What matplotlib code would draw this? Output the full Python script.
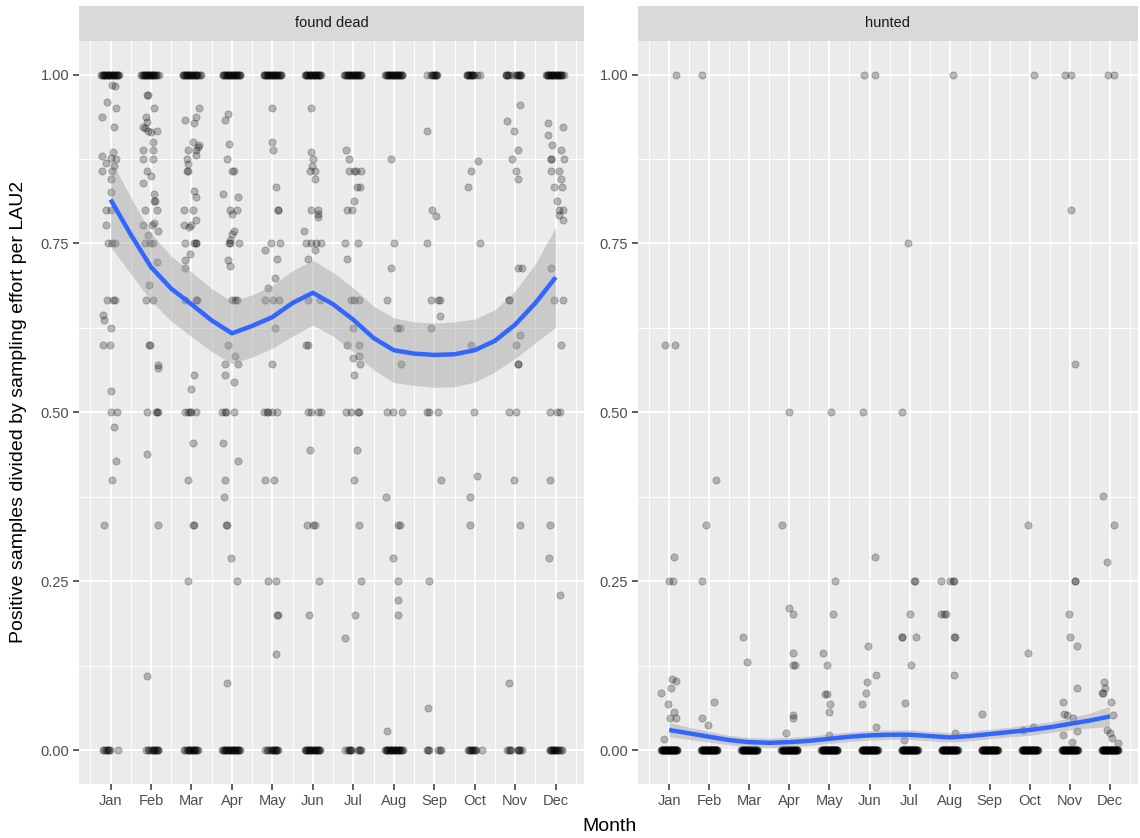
import numpy as np
import matplotlib
matplotlib.use('Agg')
from matplotlib import pyplot as plt

plt.rcParams['font.family'] = ['Liberation Sans', 'DejaVu Sans']

months = ['Jan', 'Feb', 'Mar', 'Apr', 'May', 'Jun', 'Jul', 'Aug', 'Sep', 'Oct', 'Nov', 'Dec']
panels = ['found dead', 'hunted']

# jitter of the stacked points at exactly 1.00 and 0.00, per month (found dead)
dead_ones = [
    [-0.23, -0.21, -0.19, -0.17, -0.15, -0.13, -0.11, -0.09, -0.07, -0.05, -0.03, -0.01, 0.01, 0.03, 0.05,
     0.07, 0.09, 0.11, 0.13, 0.15, 0.17, 0.19, 0.21],
    [-0.24, -0.22, -0.2, -0.18, -0.16, -0.14, -0.12, -0.1, -0.08, -0.06, -0.04, -0.02, 0.0, 0.02, 0.04,
     0.06, 0.08, 0.1, 0.12, 0.14, 0.2],
    [-0.22, -0.2, -0.18, -0.16, -0.14, -0.12, -0.1, -0.08, -0.06, -0.04, -0.02, 0.0, 0.02, 0.04, 0.06,
     0.08, 0.1, 0.12, 0.14, 0.16, 0.2, 0.23],
    [-0.23, -0.21, -0.19, -0.17, -0.15, -0.13, -0.11, -0.09, -0.07, -0.05, -0.03, -0.01, 0.01, 0.03, 0.05,
     0.07, 0.09, 0.11, 0.13, 0.15, 0.17, 0.19, 0.21],
    [-0.22, -0.2, -0.18, -0.16, -0.14, -0.12, -0.1, -0.08, -0.06, -0.04, -0.02, 0.0, 0.02, 0.04, 0.06,
     0.08, 0.1, 0.12, 0.14, 0.16, 0.18, 0.2, 0.22],
    [-0.2, -0.18, -0.16, -0.14, -0.12, -0.1, -0.08, -0.06, -0.04, -0.02, 0.0, 0.02, 0.04, 0.06, 0.08,
     0.1, 0.12, 0.14, 0.16, 0.18, 0.2],
    [-0.22, -0.2, -0.18, -0.16, -0.14, -0.12, -0.1, -0.08, -0.06, -0.04, -0.02, 0.0, 0.02, 0.04, 0.06,
     0.08, 0.1, 0.12, 0.14, 0.16, 0.18, 0.2],
    [-0.21, -0.19, -0.17, -0.15, -0.13, -0.11, -0.09, -0.07, -0.05, -0.03, -0.01, 0.01, 0.03, 0.05, 0.07,
     0.09, 0.11, 0.13, 0.15, 0.17, 0.19, 0.21],
    [-0.19, -0.09, -0.05, -0.03, -0.01, 0.01, 0.03, 0.05, 0.07],
    [-0.2, -0.18, -0.16, -0.14, -0.12, -0.1, -0.08, -0.06, -0.04, -0.02, 0.05, 0.12],
    [-0.24, -0.22, -0.2, -0.18, -0.16, -0.06, 0.03, 0.05, 0.07, 0.09, 0.11, 0.13, 0.15],
    [-0.24, -0.22, -0.2, -0.18, -0.16, -0.14, -0.12, -0.1, -0.08, -0.06, -0.04, -0.02, 0.0, 0.02, 0.04,
     0.06, 0.08, 0.1, 0.12, 0.14, 0.16, 0.2],
]
dead_zeros = [
    [-0.19, -0.15, -0.11, -0.08, -0.06, -0.04, -0.02, 0.18],
    [-0.12, -0.08, -0.04, 0.0, 0.04, 0.06, 0.08, 0.1, 0.12, 0.14, 0.16, 0.18],
    [-0.19, -0.15, -0.11, -0.09, -0.07, -0.05, -0.03, -0.01, 0.01, 0.03, 0.05, 0.07, 0.09, 0.11, 0.13, 0.17],
    [-0.24, -0.22, -0.2, -0.18, -0.16, -0.14, -0.12, -0.1, -0.08, -0.06, -0.04, -0.02, 0.0, 0.02, 0.04,
     0.06, 0.08, 0.1, 0.12, 0.14, 0.16, 0.18, 0.2],
    [-0.19, -0.14, -0.1, -0.06, -0.02, 0.0, 0.02, 0.04, 0.06, 0.08, 0.1, 0.12, 0.14],
    [-0.2, -0.18, -0.16, -0.14, -0.12, -0.1, -0.08, -0.06, -0.04, -0.02, 0.0, 0.02, 0.04, 0.06, 0.08,
     0.1, 0.12, 0.14, 0.16, 0.18],
    [-0.2, -0.13, -0.11, -0.09, -0.07, -0.05, 0.12, 0.14, 0.16, 0.18],
    [-0.22, -0.2, -0.18, -0.16, -0.14, -0.12, -0.1, -0.08, -0.06, -0.04, -0.02, 0.0, 0.02, 0.04, 0.06,
     0.08, 0.1, 0.12, 0.14, 0.16, 0.18, 0.2, 0.22],
    [-0.19, -0.15, -0.13, 0.1, 0.13, 0.16],
    [-0.17, -0.14, -0.11, -0.09, -0.07, -0.05, -0.03, 0.0, 0.02, 0.17],
    [-0.2, -0.15, -0.13, -0.11, 0.06, 0.08, 0.1, 0.12, 0.17],
    [-0.15, -0.13, -0.11, -0.09, -0.07, -0.05, -0.03, -0.01, 0.01, 0.03, 0.05, 0.08, 0.12, 0.15],
]
# hunted: every month has the same solid bar of zeros
hunted_zeros = [-0.2, -0.19, -0.18, -0.17, -0.16, -0.15, -0.14, -0.13, -0.12, -0.11, -0.1, -0.09, -0.08,
                -0.07, -0.06, -0.05, -0.04, -0.03, -0.02, -0.01, 0.0, 0.01, 0.02, 0.03, 0.04, 0.05, 0.06,
                0.07, 0.08, 0.09, 0.1, 0.11, 0.12, 0.13, 0.14, 0.15, 0.16, 0.17, 0.18, 0.19, 0.2]

# remaining points (month + jitter, value)
dead_points = [
    # Jan
    (1.04, .985), (1.12, .983), (0.91, .960), (1.14, .950), (0.79, .937), (1.08, .923), (1.07, .885),
    (0.79, .879), (0.88, .869), (1.14, .875), (1.02, .877), (1.09, .864), (0.79, .857), (1.04, .857),
    (1.01, .846), (1.02, .826), (0.88, .8), (1.02, .8), (0.89, .778), (0.93, .75), (1.04, .75), (1.12, .75),
    (0.91, .667), (1.06, .667), (1.11, .667), (0.81, .644), (0.83, .636), (1.0, .625), (0.81, .6), (0.98, .6),
    (1.0, .531), (1.0, .5), (1.17, .5), (1.09, .479), (1.14, .428), (1.03, .4), (0.85, .333),
    # Feb
    (1.89, .970), (1.93, .970), (2.07, .950), (1.88, .937), (1.91, .929), (1.81, .922), (1.85, .921),
    (1.93, .917), (1.99, .915), (2.14, .917), (2.06, .9), (1.81, .889), (2.06, .889), (1.81, .875),
    (2.06, .875), (1.91, .857), (2.01, .85), (1.79, .839), (2.07, .823), (2.08, .813), (2.09, .813),
    (1.85, .8), (2.14, .8), (1.81, .778), (2.02, .778), (2.07, .78), (2.18, .769), (1.93, .762), (1.85, .75),
    (1.98, .75), (2.06, .75), (2.14, .722), (1.96, .688), (1.88, .667), (2.04, .667), (1.96, .6), (1.98, .6),
    (2.17, .570), (2.17, .566), (1.91, .5), (2.12, .5), (2.14, .5), (2.17, .5), (1.91, .439), (2.16, .333),
    (1.89, .110),
    # Mar
    (3.18, .95), (3.1, .937), (2.84, .933), (3.06, .928), (3.04, .9), (3.18, .896), (3.16, .892), (3.12, .888),
    (2.91, .889), (3.1, .881), (2.88, .875), (2.91, .867), (2.88, .857), (2.91, .857), (3.07, .828),
    (3.12, .818), (2.81, .8), (3.04, .8), (2.81, .778), (2.93, .774), (2.98, .778), (3.12, .785), (2.85, .75),
    (3.06, .75), (3.1, .75), (3.12, .75), (2.96, .735), (2.85, .726), (2.83, .713), (2.83, .667), (3.12, .667),
    (3.13, .667), (3.06, .555), (3.0, .534), (2.85, .5), (2.92, .5), (2.97, .5), (3.0, .5), (3.12, .5),
    (3.03, .454), (2.92, .4), (3.04, .333), (3.07, .333), (2.92, .25),
    # Apr
    (3.89, .942), (3.83, .933), (3.92, .897), (3.88, .875), (4.0, .857), (4.04, .857), (3.79, .823),
    (4.15, .818), (3.94, .8), (4.12, .8), (4.0, .793), (4.06, .769), (4.0, .764), (3.94, .755), (3.92, .75),
    (3.96, .75), (4.17, .75), (3.91, .726), (3.94, .717), (4.0, .667), (4.08, .667), (4.12, .667), (3.89, .6),
    (4.08, .584), (3.83, .572), (4.15, .572), (3.83, .555), (4.06, .545), (3.75, .5), (3.83, .5), (3.85, .5),
    (4.06, .5), (3.79, .454), (4.15, .428), (3.83, .4), (3.81, .375), (3.86, .333), (3.87, .333),
    (3.98, .285), (4.12, .25), (3.87, .099),
    # May
    (4.98, .95), (4.98, .9), (5.02, .889), (5.08, .833), (5.13, .8), (5.14, .8), (4.96, .75), (5.18, .75),
    (4.81, .74), (5.12, .727), (5.07, .699), (4.88, .684), (4.81, .667), (5.02, .667), (5.17, .667),
    (5.07, .625), (4.98, .572), (4.8, .5), (4.87, .5), (4.89, .5), (5.0, .5), (5.11, .5), (4.81, .4),
    (5.04, .4), (4.89, .25), (5.1, .25), (5.12, .2), (5.13, .2), (5.08, .142),
    # Jun
    (5.96, .95), (5.96, .885), (6.0, .875), (5.98, .864), (5.92, .857), (6.06, .857), (6.06, .846),
    (5.96, .8), (6.12, .8), (6.12, .794), (6.13, .789), (5.79, .769), (5.83, .75), (5.96, .75), (6.08, .75),
    (6.19, .75), (6.04, .74), (5.88, .727), (5.89, .667), (6.17, .667), (5.83, .6), (5.87, .6), (5.88, .5),
    (5.96, .5), (6.12, .5), (6.2, .5), (5.92, .444), (5.86, .333), (6.0, .333), (6.04, .333), (6.14, .25),
    (5.9, .2),
    # Jul
    (6.82, .889), (6.9, .875), (6.88, .857), (7.02, .857), (7.07, .857), (7.19, .857), (7.09, .833),
    (7.17, .833), (7.02, .813), (6.84, .8), (6.96, .8), (6.79, .75), (7.11, .75), (6.84, .727), (6.94, .667),
    (7.01, .667), (7.15, .667), (6.98, .625), (6.84, .6), (7.15, .6), (6.98, .581), (7.13, .584),
    (7.17, .571), (7.01, .555), (6.82, .5), (6.94, .5), (7.11, .5), (7.15, .5), (7.09, .444), (7.02, .4),
    (7.15, .333), (7.19, .25), (7.05, .2), (6.79, .166),
    # Aug
    (7.94, .875), (8.0, .75), (7.94, .714), (7.84, .667), (8.09, .625), (8.15, .625), (8.17, .571),
    (7.82, .5), (7.98, .5), (8.19, .5), (7.8, .375), (8.11, .333), (8.15, .333), (7.97, .285), (8.11, .25),
    (8.11, .222), (8.11, .2), (7.83, .028),
    # Sep
    (8.81, .916), (8.95, .8), (9.03, .79), (8.83, .75), (8.93, .667), (9.1, .667), (9.14, .667),
    (9.14, .642), (8.93, .625), (8.81, .5), (8.87, .5), (9.1, .5), (9.17, .4), (8.87, .25), (8.85, .062),
    # Oct
    (10.07, .872), (9.91, .857), (9.84, .833), (10.13, .75), (9.91, .6), (9.97, .5), (10.05, .406),
    (9.87, .375), (9.87, .333),
    # Nov
    (11.13, .955), (10.8, .931), (10.97, .916), (11.07, .889), (10.93, .875), (11.01, .857), (11.07, .846),
    (11.07, .714), (11.16, .714), (10.84, .667), (10.85, .667), (11.13, .615), (11.01, .6), (11.07, .571),
    (11.08, .571), (10.84, .5), (11.02, .5), (10.97, .4), (11.13, .333), (10.84, .099),
    # Dec
    (11.82, .928), (12.17, .922), (11.82, .91), (11.92, .895), (12.12, .889), (11.88, .875), (11.89, .875),
    (12.21, .875), (11.88, .857), (12.07, .857), (12.12, .846), (11.96, .833), (12.15, .833), (12.04, .813),
    (12.07, .8), (12.17, .8), (12.08, .792), (12.18, .785), (11.88, .714), (11.96, .667), (12.17, .667),
    (12.12, .6), (11.85, .5), (12.04, .5), (12.11, .5), (11.85, .4), (11.85, .333), (11.83, .285),
    (12.11, .23),
]

hunted_points = [
    (1.17, 1.0), (0.9, .6), (1.15, .6), (1.12, .286), (1.0, .25), (1.09, .25), (0.8, .085), (0.96, .068),
    (1.05, .092), (1.07, .106), (1.17, .103), (1.13, .057), (1.02, .047), (1.17, .048), (0.86, .016),
    (1.82, 1.0), (2.17, .4), (1.92, .333), (1.83, .25), (1.83, .048), (1.96, .038), (2.12, .072),
    (2.84, .168), (2.94, .131),
    (4.0, .5), (3.81, .333), (4.0, .211), (4.08, .201), (4.08, .144), (4.1, .126), (4.15, .126), (4.1, .052),
    (4.1, .047), (3.92, .025),
    (5.04, .5), (5.14, .25), (5.08, .201), (4.83, .144), (4.94, .126), (4.88, .083), (4.94, .083),
    (5.02, .068), (4.98, .057), (4.98, .022),
    (5.87, 1.0), (6.14, 1.0), (5.83, .5), (6.13, .286), (5.97, .154), (6.15, .112), (5.94, .101),
    (5.9, .085), (5.8, .068), (6.15, .035),
    (6.82, .5), (6.97, .75), (7.12, .25), (7.13, .25), (7.0, .201), (6.8, .168), (6.81, .168), (7.17, .168),
    (7.03, .126), (6.88, .07), (6.85, .015),
    (8.08, 1.0), (7.79, .25), (8.0, .25), (8.08, .25), (8.12, .25), (7.79, .201), (7.86, .201), (7.92, .201),
    (8.12, .168), (8.13, .168), (8.1, .112), (8.14, .026),
    (8.82, .054),
    (10.11, 1.0), (9.95, .334), (9.95, .144), (9.83, .03), (10.07, .035),
    (10.88, 1.0), (11.03, 1.0), (11.02, .8), (11.12, .572), (10.97, .201), (11.0, .168), (11.17, .154),
    (11.13, .25), (11.14, .25), (11.17, .092), (10.82, .072), (10.86, .054), (10.93, .052), (11.09, .047),
    (10.84, .022), (11.17, .029), (11.05, .012),
    (11.95, 1.0), (12.1, 1.0), (11.84, .376), (12.1, .334), (11.93, .278), (11.85, .101), (11.89, .092),
    (11.81, .085), (11.82, .085), (12.03, .072), (12.08, .052), (11.93, .03), (11.99, .025), (12.06, .018),
    (12.21, .011),
]

# loess fit with its confidence band, read at half-month steps
smooth_x = [1, 1.5, 2, 2.5, 3, 3.5, 4, 4.5, 5, 5.5, 6, 6.5, 7, 7.5, 8, 8.5, 9, 9.5, 10, 10.5, 11, 11.5, 12]
dead_fit = [.815, .763, .715, .683, .660, .636, .617, .628, .641, .662, .677, .660, .637, .610, .592, .587,
            .585, .586, .592, .606, .630, .662, .700]
dead_lo = [.745, .705, .665, .635, .612, .590, .572, .582, .595, .613, .629, .613, .589, .563, .544, .540,
           .537, .538, .545, .560, .580, .603, .626]
dead_hi = [.875, .818, .765, .731, .708, .683, .664, .674, .688, .710, .725, .707, .684, .657, .640, .634,
           .632, .634, .638, .652, .680, .720, .774]
hunted_fit = [.030, .025, .020, .015, .012, .011, .012, .014, .017, .020, .022, .023, .023, .021, .019,
              .021, .024, .027, .030, .034, .039, .044, .050]
hunted_lo = [.020, .016, .012, .008, .005, .004, .005, .007, .010, .013, .015, .016, .016, .014, .012,
             .014, .017, .020, .022, .026, .030, .033, .035]
hunted_hi = [.041, .034, .028, .022, .019, .018, .019, .021, .024, .027, .029, .030, .030, .028, .026,
             .028, .031, .034, .038, .042, .048, .055, .065]


def scatter_panel(ax, points, ones, zeros):
    xs = [p[0] for p in points]
    ys = [p[1] for p in points]
    for m in range(12):
        if ones is not None:
            for j in ones[m]:
                xs.append(m + 1 + j)
                ys.append(1.0)
        for j in zeros[m]:
            xs.append(m + 1 + j)
            ys.append(0.0)
    ax.plot(xs, ys, 'o', color='black', alpha=0.25, ms=5.2, mew=0.6, ls='none', zorder=2)


def style_panel(ax, title, left, width):
    ax.set_facecolor('#EBEBEB')
    ax.set_xlim(0.22, 12.7)
    ax.set_ylim(-0.05, 1.05)
    ax.set_xticks(range(1, 13))
    ax.set_xticklabels(months)
    ax.set_xticks(np.arange(0.5, 13, 1), minor=True)
    ax.set_yticks([0, 0.25, 0.5, 0.75, 1.0])
    ax.set_yticklabels(['0.00', '0.25', '0.50', '0.75', '1.00'])
    ax.set_yticks([0.125, 0.375, 0.625, 0.875], minor=True)
    ax.grid(which='major', color='white', lw=1.3)
    ax.grid(which='minor', color='white', lw=0.65)
    ax.set_axisbelow(True)
    for s in ax.spines.values():
        s.set_visible(False)
    ax.tick_params(which='major', length=4, width=1.1, color='#333333',
                   labelcolor='#4D4D4D', labelsize=10.5, pad=3)
    ax.tick_params(which='minor', length=0)

    strip = fig.add_axes([left, 0.9514, width, 0.0414])
    strip.set_facecolor('#D9D9D9')
    strip.set_xticks([])
    strip.set_yticks([])
    for s in strip.spines.values():
        s.set_visible(False)
    strip.text(0.5, 0.5, title, ha='center', va='center', fontsize=10.5, color='#1A1A1A',
               transform=strip.transAxes)


fig = plt.figure(figsize=(11.4, 8.38), dpi=100)

ax1 = fig.add_axes([0.0693, 0.0644, 0.443, 0.887])
ax2 = fig.add_axes([0.5596, 0.0644, 0.4386, 0.887])

scatter_panel(ax1, dead_points, dead_ones, dead_zeros)
scatter_panel(ax2, hunted_points, None, [hunted_zeros] * 12)

ax1.fill_between(smooth_x, dead_lo, dead_hi, color='#999999', alpha=0.4, lw=0, zorder=3)
ax1.plot(smooth_x, dead_fit, color='#3366FF', lw=3.2, zorder=4, solid_capstyle='butt')
ax2.fill_between(smooth_x, hunted_lo, hunted_hi, color='#999999', alpha=0.4, lw=0, zorder=3)
ax2.plot(smooth_x, hunted_fit, color='#3366FF', lw=3.2, zorder=4, solid_capstyle='butt')

style_panel(ax1, panels[0], 0.0693, 0.443)
style_panel(ax2, panels[1], 0.5596, 0.4386)

fig.text(0.535, 0.0135, 'Month', ha='center', va='center', fontsize=14, color='black')
fig.text(0.0158, 0.508, 'Positive samples divided by sampling effort per LAU2', ha='center',
         va='center', rotation=90, fontsize=14, color='black')

plt.savefig('out.png', dpi=100)
